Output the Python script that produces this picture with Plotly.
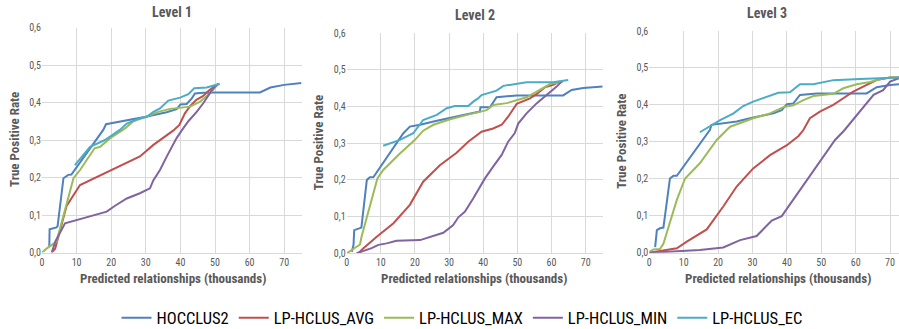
import plotly.graph_objects as go

SERIES = ["HOCCLUS2", "LP-HCLUS_AVG", "LP-HCLUS_MAX", "LP-HCLUS_MIN", "LP-HCLUS_EC"]
COLORS = ["#4F81BD", "#C0504D", "#9BBB59", "#8064A2", "#4BACC6"]
PANEL_TITLES = ["Level 1", "Level 2", "Level 3"]
X_TITLE = "Predicted relationships (thousands)"
Y_TITLE = "True Positive Rate"
X_TICKS = [0, 10, 20, 30, 40, 50, 60, 70]
Y_TICKS = [0.0, 0.1, 0.2, 0.3, 0.4, 0.5, 0.6]

# ---------- Level 1 ----------
l1_hoc_x = [2.1, 2.2, 4.2, 4.5, 6.2, 7.6, 8.5, 17.7, 18.5, 21, 24.5, 30, 36, 38.9, 40, 41.8, 43.3, 44.2, 46.6, 50, 63, 66, 70, 75]
l1_hoc_y = [0.015, 0.062, 0.067, 0.07, 0.198, 0.207, 0.208, 0.327, 0.342, 0.346, 0.352, 0.362, 0.374, 0.382, 0.395, 0.396, 0.411, 0.424, 0.426, 0.427, 0.427, 0.44, 0.447, 0.452]
l1_avg_x = [2.8, 3.8, 7.1, 11, 28.3, 32.2, 37.9, 39.7, 41.3, 42.8, 44.6, 46.5, 48.4, 50.9]
l1_avg_y = [0, 0.01, 0.124, 0.18, 0.256, 0.287, 0.325, 0.34, 0.371, 0.39, 0.407, 0.417, 0.433, 0.449]
l1_max_x = [0, 1.4, 4.2, 6.6, 9.1, 11, 15.2, 16.8, 19.7, 24, 26.4, 30, 33.6, 37, 42.8, 45.7, 48.6, 50.9]
l1_max_y = [0, 0.011, 0.029, 0.113, 0.198, 0.22, 0.278, 0.282, 0.305, 0.331, 0.35, 0.362, 0.375, 0.383, 0.389, 0.402, 0.425, 0.449]
l1_min_x = [2.8, 3.9, 6.65, 18.7, 21, 24.5, 28.3, 31.2, 32.2, 34.1, 36, 37.9, 38.9, 40.5, 42.3, 44.7, 46.6, 49.5, 50.6]
l1_min_y = [0, 0.03, 0.078, 0.109, 0.124, 0.144, 0.158, 0.171, 0.193, 0.22, 0.255, 0.287, 0.305, 0.327, 0.35, 0.375, 0.398, 0.438, 0.448]
l1_ec_x = [9.5, 13.9, 18.2, 19.7, 22.5, 24.5, 27.4, 30.3, 32.2, 34.1, 36.5, 39.9, 42.3, 44, 47.6, 51.4]
l1_ec_y = [0.233, 0.282, 0.30, 0.309, 0.327, 0.344, 0.355, 0.362, 0.375, 0.384, 0.405, 0.413, 0.422, 0.438, 0.44, 0.45]

# ---------- Level 2 ----------
l2_hoc_x = [1.5, 2.0, 2.2, 3.9, 4.3, 5.9, 6.8, 7.8, 16.6, 18.5, 21.5, 26.4, 32.2, 36.1, 39, 39.2, 42, 43.9, 49.8, 63.4, 65.9, 69.3, 75]
l2_hoc_y = [0.004, 0.023, 0.063, 0.068, 0.07, 0.2, 0.207, 0.207, 0.327, 0.345, 0.35, 0.361, 0.372, 0.379, 0.386, 0.398, 0.398, 0.425, 0.43, 0.43, 0.445, 0.45, 0.454]
l2_avg_x = [3.4, 4.9, 8.8, 13.7, 18.5, 22.4, 27.3, 32.2, 35.6, 39.5, 42.9, 45.4, 47.3, 49.8, 53.7, 55.7, 58.1, 60.5, 62.5]
l2_avg_y = [0, 0.014, 0.045, 0.082, 0.132, 0.195, 0.24, 0.274, 0.304, 0.331, 0.34, 0.35, 0.372, 0.407, 0.422, 0.434, 0.452, 0.459, 0.468]
l2_max_x = [0, 3.9, 4.4, 9.0, 10.7, 15.6, 20, 22.4, 25.4, 30.3, 36.1, 41, 42.9, 46.9, 52.7, 54.7, 56.6, 59.6, 63.4]
l2_max_y = [0, 0.024, 0.047, 0.204, 0.227, 0.272, 0.309, 0.334, 0.35, 0.365, 0.379, 0.39, 0.404, 0.409, 0.425, 0.436, 0.445, 0.461, 0.468]
l2_min_x = [2.9, 7.3, 9.3, 11.7, 14.6, 21.5, 28.3, 31.2, 32.7, 34.6, 37.1, 40.5, 42.9, 45.4, 47.3, 49.2, 50.3, 52.7, 55.7, 58.6, 61.5, 63]
l2_min_y = [0, 0.014, 0.023, 0.027, 0.034, 0.036, 0.056, 0.077, 0.098, 0.113, 0.15, 0.204, 0.236, 0.268, 0.304, 0.327, 0.354, 0.381, 0.409, 0.431, 0.454, 0.468]
l2_ec_x = [10.7, 15.6, 19.5, 22.4, 26.4, 29.3, 31.7, 35.6, 37.1, 38.5, 39.5, 42, 43.9, 45.9, 48.8, 52.7, 60.5, 64.9]
l2_ec_y = [0.293, 0.309, 0.327, 0.363, 0.377, 0.395, 0.401, 0.401, 0.413, 0.422, 0.431, 0.438, 0.443, 0.456, 0.461, 0.466, 0.466, 0.472]

# ---------- Level 3 ----------
l3_hoc_x = [1.7, 2.2, 3.1, 4.1, 6.0, 7.0, 8.0, 17.6, 18.1, 21.5, 25.4, 29.3, 36.1, 38.5, 40, 41.9, 43.8, 48.7, 63.2, 66.1, 70, 75]
l3_hoc_y = [0.015, 0.061, 0.066, 0.068, 0.201, 0.208, 0.208, 0.332, 0.346, 0.35, 0.355, 0.364, 0.377, 0.386, 0.402, 0.404, 0.427, 0.431, 0.431, 0.448, 0.454, 0.457]
l3_avg_x = [0, 3.1, 8.0, 10.9, 16.7, 21.5, 25.4, 30.2, 35.1, 40, 43.4, 44.8, 46.7, 49.6, 53.5, 56.4, 59.3, 63.2, 66.1, 70, 72.6]
l3_avg_y = [0, 0.005, 0.012, 0.03, 0.063, 0.125, 0.179, 0.228, 0.264, 0.291, 0.316, 0.332, 0.364, 0.382, 0.4, 0.418, 0.436, 0.454, 0.467, 0.474, 0.474]
l3_max_x = [0, 1.2, 3.1, 4.1, 8.0, 10.4, 14.7, 19.6, 22.5, 23.5, 30.2, 35.1, 39, 41.9, 44.8, 47.7, 53.5, 56.4, 60.3, 64.2, 67.1, 70, 72.6]
l3_max_y = [0.002, 0.009, 0.01, 0.024, 0.143, 0.201, 0.242, 0.305, 0.332, 0.341, 0.364, 0.377, 0.394, 0.399, 0.413, 0.424, 0.43, 0.445, 0.456, 0.462, 0.47, 0.474, 0.474]
l3_min_x = [0, 14.7, 21.5, 23.5, 26.4, 31.2, 35.6, 38.5, 43.8, 48.7, 54, 56.6, 61.3, 65.2, 68, 70, 72.6]
l3_min_y = [0, 0.007, 0.014, 0.023, 0.034, 0.045, 0.087, 0.099, 0.17, 0.237, 0.305, 0.33, 0.382, 0.427, 0.44, 0.463, 0.472]
l3_ec_x = [14.7, 18.1, 20.6, 24.5, 27.3, 30.2, 33.1, 36.1, 37.5, 40.9, 42.4, 43.8, 47.7, 53.5, 61.3, 72.6]
l3_ec_y = [0.326, 0.346, 0.359, 0.377, 0.397, 0.409, 0.418, 0.427, 0.433, 0.434, 0.445, 0.456, 0.456, 0.467, 0.47, 0.474]

PANELS = [
    [(l1_hoc_x, l1_hoc_y), (l1_avg_x, l1_avg_y), (l1_max_x, l1_max_y), (l1_min_x, l1_min_y), (l1_ec_x, l1_ec_y)],
    [(l2_hoc_x, l2_hoc_y), (l2_avg_x, l2_avg_y), (l2_max_x, l2_max_y), (l2_min_x, l2_min_y), (l2_ec_x, l2_ec_y)],
    [(l3_hoc_x, l3_hoc_y), (l3_avg_x, l3_avg_y), (l3_max_x, l3_max_y), (l3_min_x, l3_min_y), (l3_ec_x, l3_ec_y)],
]

W, H = 899, 329
FONT = "Liberation Sans Narrow, Roboto Condensed, Liberation Sans, sans-serif"
GRAY = "#595959"

# plot-area pixel boxes (left, right, top, bottom) and x ranges
BOXES = [(42, 301.5, 27.5, 252.5), (346.7, 602.7, 33, 253.3), (649.3, 899, 31, 252.7)]
XRANGES = [[0, 75], [0, 75], [0, 72.6]]
TITLE_Y = [12, 15, 13]
YTITLE_X = [15, 318, 622]
XTITLE_CX = [173, 474, 778]

fig = go.Figure()
for p, panel in enumerate(PANELS):
    for s, (xs, ys) in enumerate(panel):
        fig.add_trace(go.Scatter(
            x=xs, y=ys, mode="lines", name=SERIES[s],
            line=dict(color=COLORS[s], width=2),
            showlegend=(p == 0),
            xaxis="x" if p == 0 else f"x{p+1}",
            yaxis="y" if p == 0 else f"y{p+1}",
        ))

layout = dict(
    width=W, height=H, margin=dict(l=0, r=0, t=0, b=0, autoexpand=False),
    paper_bgcolor="white", plot_bgcolor="white",
    separators=", ",
    font=dict(family=FONT, color=GRAY),
    legend=dict(orientation="h", x=462 / W, xanchor="center", y=1 - 318 / H, yanchor="middle",
                font=dict(family=FONT, size=16.5, color="#000000"), itemwidth=30,
                bgcolor="rgba(0,0,0,0)"),
    annotations=[],
)
for p in range(3):
    l, r, t, b = BOXES[p]
    sx = "" if p == 0 else str(p + 1)
    layout["xaxis" + sx] = dict(
        domain=[l / W, r / W], range=XRANGES[p], anchor="y" + sx, automargin=False,
        tickvals=X_TICKS, showgrid=True, gridcolor="#D9D9D9", gridwidth=1,
        zeroline=False, showline=True, linecolor="#D9D9D9", ticks="",
        tickfont=dict(size=10, color=GRAY, family=FONT),
    )
    layout["yaxis" + sx] = dict(
        domain=[1 - b / H, 1 - t / H], range=[0, 0.6], anchor="x" + sx, automargin=False,
        tickvals=Y_TICKS, tickformat=".1f", showgrid=True, gridcolor="#D9D9D9", gridwidth=1,
        zeroline=False, showline=False, ticks="",
        tickfont=dict(size=10, color=GRAY, family=FONT),
    )
    layout["annotations"] += [
        dict(text=f"<b>{PANEL_TITLES[p]}</b>", x=((l + r) / 2 if p < 2 else 767) / W,
             y=1 - TITLE_Y[p] / H, xref="paper", yref="paper", showarrow=False,
             xanchor="center", yanchor="middle", font=dict(size=14, color=GRAY, family=FONT)),
        dict(text=f"<b>{X_TITLE}</b>", x=XTITLE_CX[p] / W, y=1 - 278 / H,
             xref="paper", yref="paper", showarrow=False, xanchor="center", yanchor="middle",
             font=dict(size=13, color=GRAY, family=FONT)),
        dict(text=f"<b>{Y_TITLE}</b>", x=YTITLE_X[p] / W, y=1 - (t + b) / 2 / H,
             xref="paper", yref="paper", showarrow=False, xanchor="center", yanchor="middle",
             textangle=-90, font=dict(size=13, color=GRAY, family=FONT)),
    ]

fig.update_layout(**layout)
fig.write_html("out.html", config={"displayModeBar": False},
               post_script="document.body.style.margin='0';")
